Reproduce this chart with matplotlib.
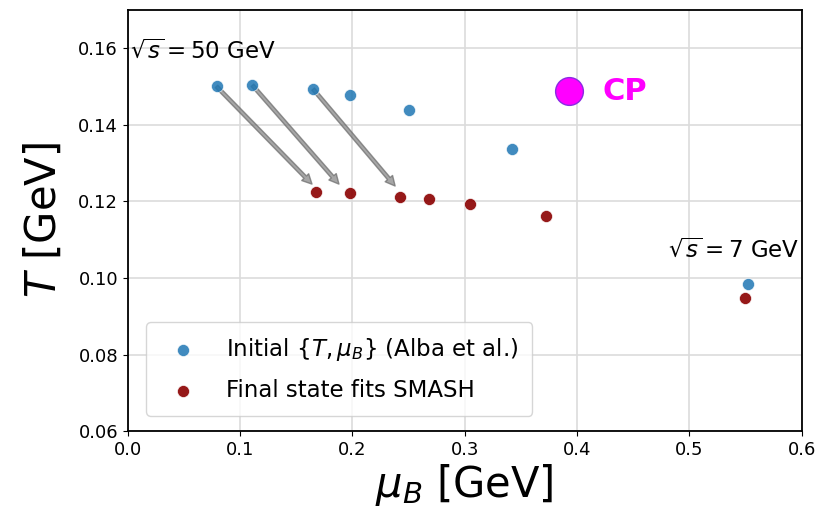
import matplotlib

matplotlib.use("Agg")
import matplotlib.pyplot as plt

# initial {T, mu_B} (Alba et al.)
mu_init = [0.079, 0.111, 0.165, 0.198, 0.250, 0.342, 0.552]
t_init = [0.1500, 0.1503, 0.1493, 0.1477, 0.1438, 0.1336, 0.0984]

# final state fits SMASH
mu_final = [0.168, 0.198, 0.242, 0.268, 0.305, 0.372, 0.549]
t_final = [0.1224, 0.1221, 0.1211, 0.1206, 0.1193, 0.1161, 0.0947]

# critical point
mu_cp = 0.393
t_cp = 0.1488

# arrows from the first three initial points
arrow_starts = [(0.079, 0.1500), (0.111, 0.1503), (0.165, 0.1493)]
arrow_ends = [(0.164, 0.1245), (0.188, 0.1245), (0.238, 0.1240)]


def main():
    fig = plt.figure(figsize=(8.19, 5.17), dpi=100)
    ax = fig.add_axes([0.156, 0.166, 0.823, 0.815])

    ax.grid(True, color="#dcdcdc", linewidth=1.2)
    ax.set_axisbelow(True)

    ax.scatter(mu_init, t_init, s=75, color="C0", edgecolors="white",
               linewidths=0.5, alpha=0.85, zorder=3,
               label=r"Initial $\{T,\mu_B\}$ (Alba et al.)")
    ax.scatter(mu_final, t_final, s=75, color="#8b0000", edgecolors="white",
               linewidths=0.5, alpha=0.9, zorder=3,
               label="Final state fits SMASH")

    for (x0, y0), (x1, y1) in zip(arrow_starts, arrow_ends):
        ax.annotate("", xy=(x1, y1), xytext=(x0, y0),
                    arrowprops=dict(facecolor="gray", edgecolor="dimgray",
                                    alpha=0.7, width=2.5, headwidth=7,
                                    headlength=7, shrink=0.0), zorder=2)

    ax.plot(mu_cp, t_cp, "o", markersize=20, color="magenta",
            markeredgecolor="blueviolet", markeredgewidth=1.0, zorder=4)
    ax.text(mu_cp + 0.030, t_cp, "CP", color="magenta", fontsize=22,
            fontweight="bold", va="center", ha="left")

    ax.text(0.002, 0.1575, r"$\sqrt{s}=50$ GeV", fontsize=16.5)
    ax.text(0.481, 0.1055, r"$\sqrt{s}=7$ GeV", fontsize=16.5)

    ax.set_xlim(0.0, 0.6)
    ax.set_ylim(0.06, 0.17)
    ax.set_yticks([0.06, 0.08, 0.10, 0.12, 0.14, 0.16])
    ax.tick_params(labelsize=13)
    for spine in ax.spines.values():
        spine.set_linewidth(1.3)

    ax.set_xlabel(r"$\mu_B$ [GeV]", fontsize=30, labelpad=2)
    ax.set_ylabel(r"$T$ [GeV]", fontsize=30, labelpad=10)

    ax.legend(loc="lower left", fontsize=16.5, handletextpad=0.9,
              labelspacing=0.7, borderpad=0.6, framealpha=0.8,
              bbox_to_anchor=(0.01, 0.01))

    fig.savefig("out.png", dpi=100)


if __name__ == "__main__":
    main()
